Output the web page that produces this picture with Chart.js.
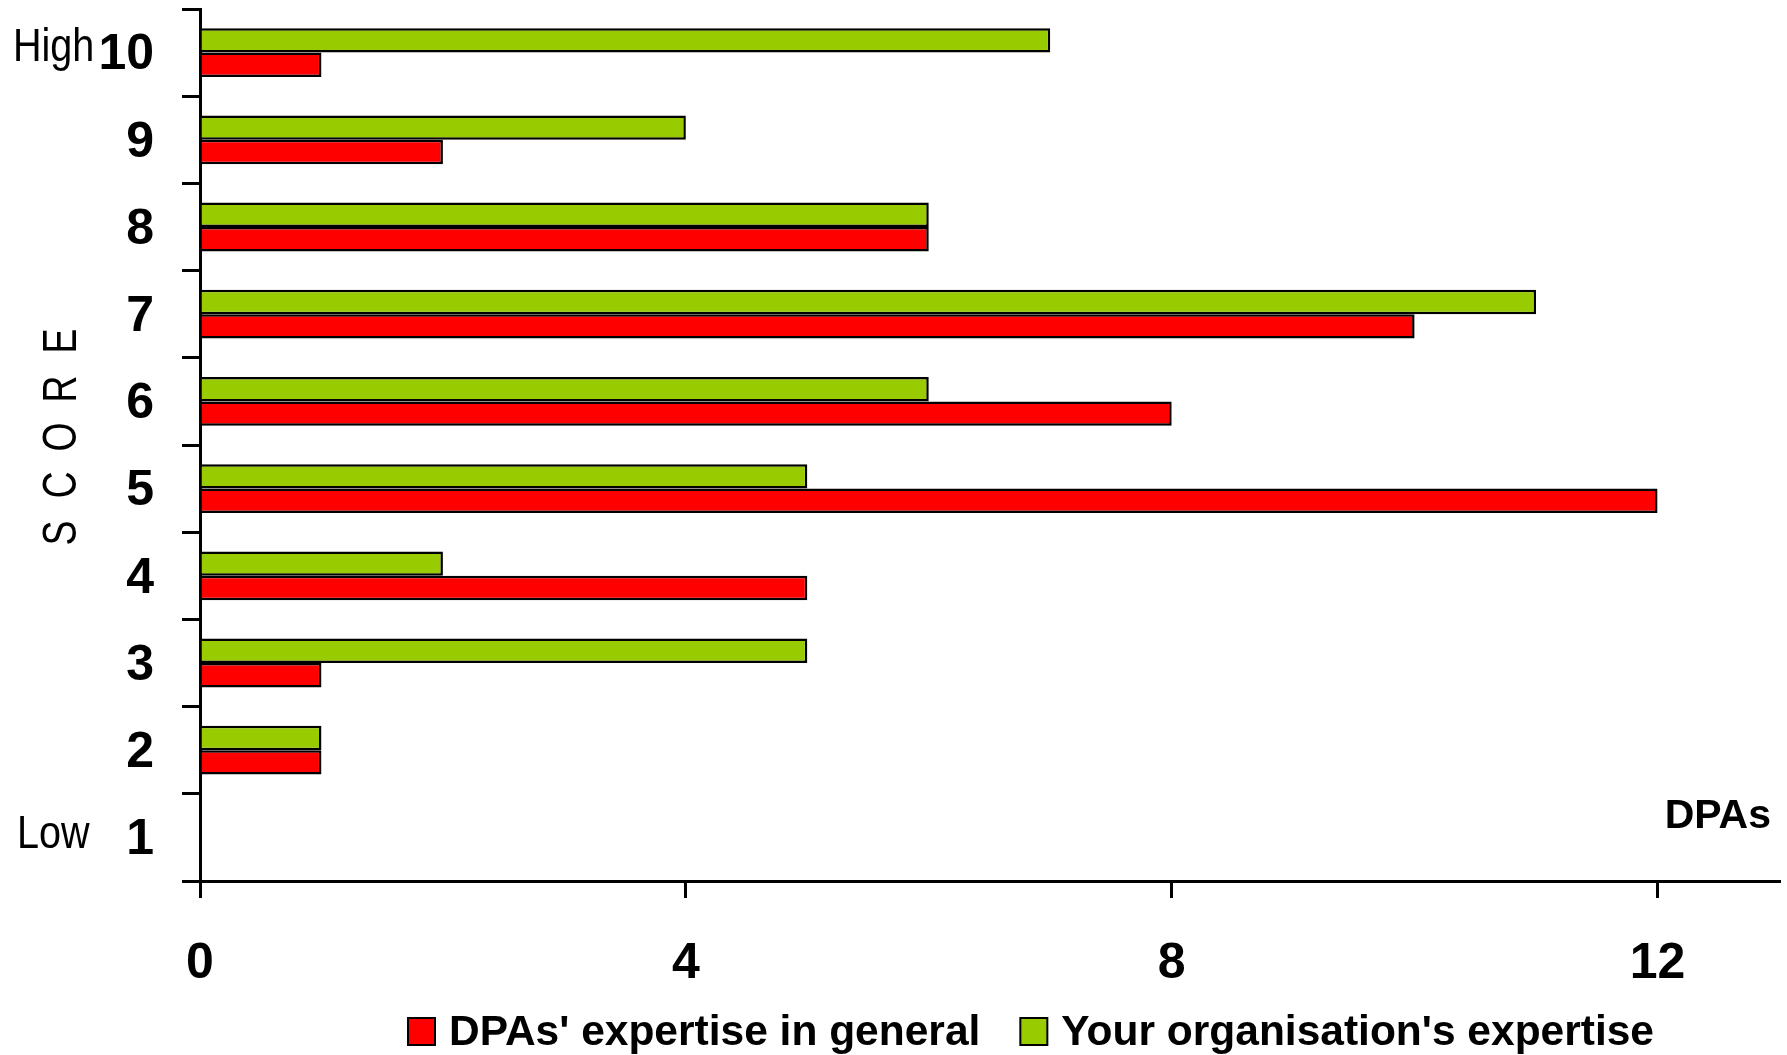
<!DOCTYPE html>
<html>
<head>
<meta charset="utf-8">
<script src="https://cdn.jsdelivr.net/npm/chart.js@4.4.0/dist/chart.umd.min.js"></script>
<style>
  html, body { margin: 0; padding: 0; background: #fff; }
  #chart { display: block; }
</style>
</head>
<body>
<canvas id="chart" width="1787" height="1055"></canvas>
<script>
// Scores from top (10) to bottom (1), number of DPAs per score
const scores = ['10', '9', '8', '7', '6', '5', '4', '3', '2', '1'];
const orgExpertise = [7, 4, 6, 11, 6, 5, 2, 5, 1, 0];
const dpaExpertise = [1, 2, 6, 10, 8, 12, 5, 1, 1, 0];
const xTicks = [0, 4, 8, 12];
const xMax = 13;

const FONT = '"Liberation Sans", Arial, sans-serif';

// draw text squeezed horizontally
function narrowText(ctx, text, x, y, sx) {
  ctx.save();
  ctx.translate(x, y);
  ctx.scale(sx, 1);
  ctx.fillText(text, 0, 0);
  ctx.restore();
}

// High / Low, SCORE, DPAs and the legend
const extras = {
  id: 'extras',
  afterDraw(chart) {
    const { ctx } = chart;
    const yScale = chart.scales.y;
    ctx.save();
    ctx.fillStyle = '#000';

    ctx.font = '46px ' + FONT;
    ctx.textBaseline = 'alphabetic';
    ctx.textAlign = 'left';
    narrowText(ctx, 'High', 13, yScale.getPixelForTick(0) + 8, 0.86);
    narrowText(ctx, 'Low', 17, yScale.getPixelForTick(9) + 11, 0.86);

    // axis name, letters spread out
    ctx.save();
    ctx.translate(76, 437);
    ctx.rotate(-Math.PI / 2);
    ctx.font = '48px ' + FONT;
    ctx.textAlign = 'center';
    'SCORE'.split('').forEach((ch, i) => {
      narrowText(ctx, ch, (i - 2) * 48, 0, 0.78);
    });
    ctx.restore();

    ctx.font = 'bold 41px ' + FONT;
    ctx.textAlign = 'right';
    ctx.fillText('DPAs', 1771, 828);

    // legend: red series first
    ctx.font = 'bold 42.5px ' + FONT;
    ctx.textAlign = 'left';
    ctx.textBaseline = 'middle';
    ctx.lineWidth = 2;
    ctx.strokeStyle = '#000';
    let x = 408;
    const cy = 1031;
    [1, 0].forEach(i => {
      const ds = chart.data.datasets[i];
      ctx.fillStyle = ds.backgroundColor;
      ctx.fillRect(x, cy - 13, 27, 27);
      ctx.strokeRect(x, cy - 13, 27, 27);
      ctx.fillStyle = '#000';
      ctx.fillText(ds.label, x + 41, cy + 2);
      x += 41 + ctx.measureText(ds.label).width + 40;
    });
    ctx.restore();
  }
};

new Chart(document.getElementById('chart'), {
  type: 'bar',
  data: {
    labels: scores,
    datasets: [
      {
        label: "Your organisation's expertise",
        data: orgExpertise,
        backgroundColor: '#99CC00',
        borderColor: '#000',
        borderWidth: 2.5,
        categoryPercentage: 0.56,
        barPercentage: 1
      },
      {
        label: "DPAs' expertise in general",
        data: dpaExpertise,
        backgroundColor: '#FF0000',
        borderColor: '#000',
        borderWidth: 2.5,
        categoryPercentage: 0.56,
        barPercentage: 1
      }
    ]
  },
  options: {
    indexAxis: 'y',
    responsive: false,
    animation: false,
    layout: { padding: { top: 9, right: 8, left: 0, bottom: 0 } },
    plugins: {
      legend: { display: false },
      tooltip: { enabled: false }
    },
    scales: {
      x: {
        min: 0,
        max: xMax,
        afterBuildTicks: axis => { axis.ticks = xTicks.map(v => ({ value: v })); },
        afterFit: axis => {
          axis.height = 174;
          axis.paddingLeft = 0;
          axis.paddingRight = 0;
        },
        border: { color: '#000', width: 3 },
        grid: { drawOnChartArea: false, drawTicks: true, tickLength: 17, color: '#000', lineWidth: 3 },
        ticks: { color: '#000', padding: 36, font: { family: FONT, size: 50, weight: 'bold' } }
      },
      y: {
        afterFit: axis => {
          axis.width = 200;
          axis.paddingTop = 0;
          axis.paddingBottom = 0;
        },
        border: { color: '#000', width: 3 },
        grid: { drawOnChartArea: false, drawTicks: true, tickLength: 18, color: '#000', lineWidth: 3 },
        ticks: { color: '#000', padding: 28, labelOffset: 3, font: { family: FONT, size: 50, weight: 'bold' } }
      }
    }
  },
  plugins: [extras]
});
</script>
</body>
</html>
